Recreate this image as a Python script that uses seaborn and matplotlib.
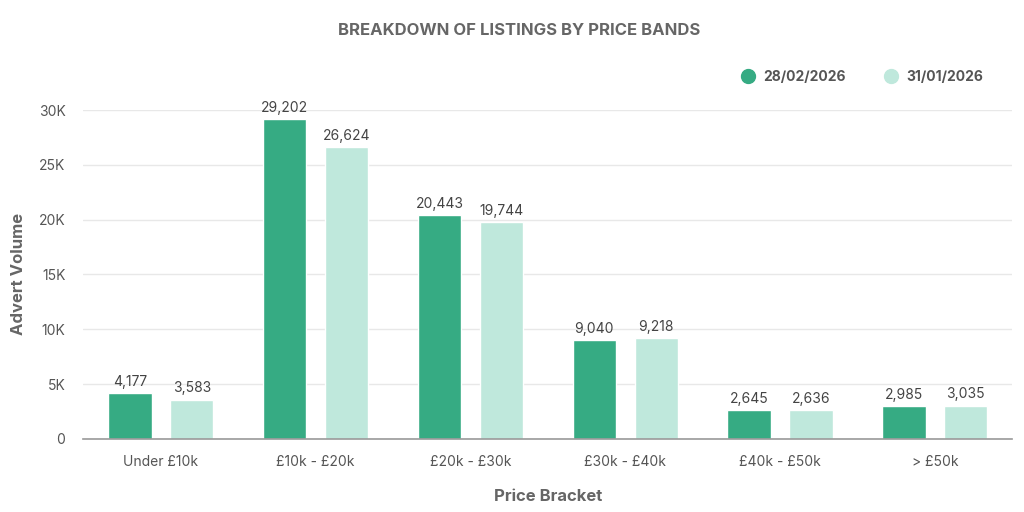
import matplotlib
matplotlib.use("Agg")
import matplotlib.pyplot as plt
import seaborn as sns
import pandas as pd
from matplotlib.lines import Line2D
from matplotlib.ticker import FuncFormatter

categories = ["Under £10k", "£10k - £20k", "£20k - £30k", "£30k - £40k", "£40k - £50k", "> £50k"]
series_names = ["28/02/2026", "31/01/2026"]
feb_values = [4177, 29202, 20443, 9040, 2645, 2985]
jan_values = [3583, 26624, 19744, 9218, 2636, 3035]
colors = ["#36ab83", "#bfe8dc"]

df = pd.DataFrame({
    "Price Bracket": categories * 2,
    "Series": [series_names[0]] * len(categories) + [series_names[1]] * len(categories),
    "Value": feb_values + jan_values,
})

sns.set_theme(style="white")
plt.rcParams["font.family"] = ["Inter", "DejaVu Sans"]

fig = plt.figure(figsize=(10.24, 5.12), dpi=100)
ax = fig.add_axes([0.0815, 0.143, 0.907, 0.642])

sns.barplot(data=df, x="Price Bracket", y="Value", hue="Series", order=categories,
            hue_order=series_names, palette=colors, width=0.8, gap=0.3,
            saturation=1, ax=ax, legend=False, errorbar=None)

for cont in ax.containers:
    labels = [f"{int(v):,}" for v in cont.datavalues]
    ax.bar_label(cont, labels=labels, padding=3, fontsize=10, color="#444444")

ax.set_xlim(-0.5, len(categories) - 0.5)
ax.set_ylim(0, 30000)
ax.set_yticks([0, 5000, 10000, 15000, 20000, 25000, 30000])
ax.yaxis.set_major_formatter(FuncFormatter(lambda v, p: "0" if v == 0 else f"{int(v/1000)}K"))
ax.grid(axis="y", color="#e8e8e8", linewidth=1)
ax.set_axisbelow(True)
for s in ["top", "right", "left"]:
    ax.spines[s].set_visible(False)
ax.spines["bottom"].set_color("#999999")
ax.spines["bottom"].set_linewidth(1.2)
ax.tick_params(axis="y", labelsize=10, labelcolor="#555555", length=0, pad=13)
ax.tick_params(axis="x", labelsize=10, labelcolor="#555555", length=0, pad=12)
ax.set_xlabel("Price Bracket", fontsize=12, fontweight="bold", color="#666666", labelpad=14)
ax.set_ylabel("Advert Volume", fontsize=12, fontweight="bold", color="#666666", labelpad=9)

fig.text(0.507, 0.94, "BREAKDOWN OF LISTINGS BY PRICE BANDS", ha="center", va="center",
         fontsize=12, fontweight="bold", color="#666666")

handles = [Line2D([0], [0], marker="o", linestyle="", markersize=10,
                  markerfacecolor=c, markeredgecolor=c) for c in colors]
fig.legend(handles, series_names, loc="center right", bbox_to_anchor=(0.972, 0.849),
           ncol=2, frameon=False, handletextpad=0.1, columnspacing=2.2,
           labelcolor="#555555", prop={"weight": "bold", "size": 10})

fig.savefig("out.png", dpi=100)
